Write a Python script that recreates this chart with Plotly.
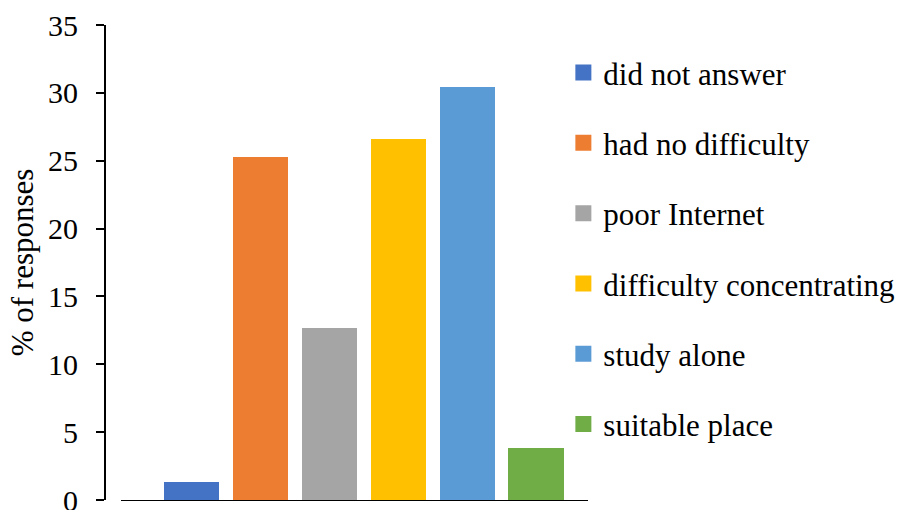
import plotly.graph_objects as go

categories = ["did not answer", "had no difficulty", "poor Internet",
              "difficulty concentrating", "study alone", "suitable place"]
values = [1.3, 25.3, 12.7, 26.6, 30.4, 3.8]
colors = ["#4472C4", "#ED7D31", "#A5A5A5", "#FFC000", "#5B9BD5", "#70AD47"]
y_ticks = [0, 5, 10, 15, 20, 25, 30, 35]

FONT = "Liberation Serif"

fig = go.Figure()
for i, (cat, val, col) in enumerate(zip(categories, values, colors)):
    fig.add_trace(go.Bar(x=[i], y=[val], width=0.8, marker_color=col,
                         marker_line_width=0, name=cat, showlegend=False,
                         hoverinfo="name+y"))
# legend entries (square swatches)
for cat, col in zip(categories, colors):
    fig.add_trace(go.Scatter(x=[None], y=[None], mode="markers", name=cat,
                             legendgroup=cat,
                             marker=dict(symbol="square", size=16, color=col),
                             showlegend=True))

fig.update_layout(
    width=903, height=510,
    margin=dict(l=105, r=315, t=25, b=10, autoexpand=False),
    paper_bgcolor="white", plot_bgcolor="white",
    font=dict(family=FONT, size=30, color="black"),
    showlegend=True,
    legend=dict(x=0.949, xanchor="left", y=0.956, yanchor="top",
                font=dict(family=FONT, size=31, color="black"),
                tracegroupgap=27, bgcolor="rgba(0,0,0,0)",
                itemclick=False),
    xaxis=dict(domain=[16/483, 1], range=[-1.023, 5.755], showticklabels=False,
               showgrid=False, zeroline=False, showline=True, linecolor="black",
               linewidth=1, ticks=""),
    yaxis=dict(anchor="free", position=0, range=[0, 35], tickvals=y_ticks,
               showgrid=False, zeroline=False, showline=True, linecolor="black",
               linewidth=2, ticks="outside", ticklen=8, tickwidth=1.5,
               tickcolor="black", tickfont=dict(family=FONT, size=30),
               ticklabeloverflow="allow", ticklabelstandoff=12,
               title=dict(text="% of responses", font=dict(family=FONT, size=31),
                          standoff=4)),
    bargap=0,
)

fig.write_html("out.html")
